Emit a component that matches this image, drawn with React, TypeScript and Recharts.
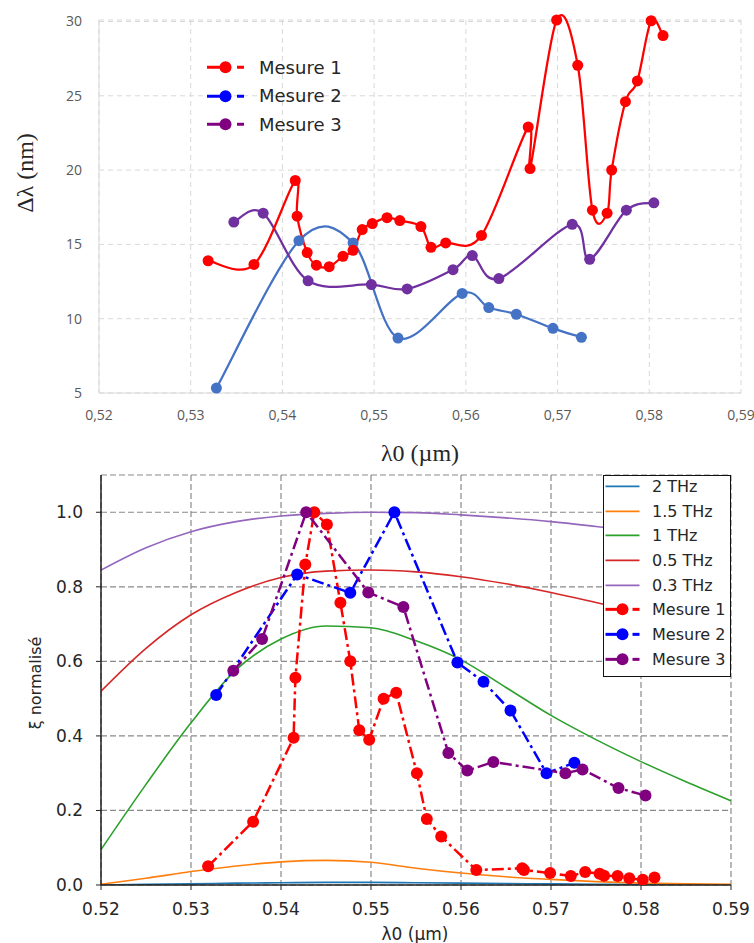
import { LineChart, Line, XAxis, YAxis, CartesianGrid, Legend } from 'recharts'

const xTicks = [0.52, 0.53, 0.54, 0.55, 0.56, 0.57, 0.58, 0.59]
const dlTicks = [5, 10, 15, 20, 25, 30]
const xiTicks = [0, 0.2, 0.4, 0.6, 0.8, 1.0]

// Mesure 1
const m1Lambda = [0.5319, 0.5369, 0.5414, 0.5416, 0.5427, 0.5437, 0.5451, 0.5466, 0.5477, 0.5487, 0.5498, 0.5514, 0.5528, 0.5551, 0.5562, 0.5578, 0.5617, 0.5668, 0.567, 0.5699, 0.5722, 0.5738, 0.5754, 0.5759, 0.5774, 0.5787, 0.5802, 0.5815]
const m1Width = [13.9, 13.65, 19.3, 16.9, 14.45, 13.6, 13.5, 14.2, 14.6, 16.0, 16.4, 16.8, 16.6, 16.2, 14.8, 15.1, 15.6, 22.9, 20.1, 30.1, 27.05, 17.3, 17.1, 20.0, 24.6, 26.0, 30.05, 29.05]
const m1Xi = [0.05, 0.17, 0.395, 0.556, 0.86, 1.0, 0.967, 0.757, 0.6, 0.415, 0.39, 0.5, 0.516, 0.3, 0.177, 0.13, 0.04, 0.045, 0.04, 0.032, 0.024, 0.035, 0.03, 0.025, 0.024, 0.018, 0.014, 0.02]

// Mesure 2
const m2Lambda = [0.5328, 0.5418, 0.5477, 0.5526, 0.5596, 0.5625, 0.5655, 0.5695, 0.5726]
const m2Width = [5.33, 15.25, 15.1, 8.7, 11.7, 10.75, 10.3, 9.35, 8.75]
const m2Xi = [0.51, 0.833, 0.784, 1.0, 0.597, 0.545, 0.468, 0.3, 0.328]

// Mesure 3
const m3Lambda = [0.5347, 0.5379, 0.5428, 0.5497, 0.5536, 0.5586, 0.5607, 0.5636, 0.5716, 0.5735, 0.5775, 0.5805]
const m3Width = [16.5, 17.1, 12.55, 12.3, 12.0, 13.3, 14.25, 12.7, 16.35, 14.0, 17.3, 17.8]
const m3Xi = [0.575, 0.66, 1.0, 0.785, 0.746, 0.354, 0.307, 0.33, 0.3, 0.31, 0.26, 0.24]

// courbes théoriques
const thzLambda = [0.52, 0.525, 0.53, 0.535, 0.54, 0.545, 0.55, 0.555, 0.56, 0.565, 0.57, 0.575, 0.58, 0.585, 0.59]
const thz2 = [0.0, 0.002, 0.003, 0.005, 0.006, 0.007, 0.007, 0.006, 0.005, 0.004, 0.003, 0.002, 0.001, 0.001, 0.0]
const thz15 = [0.002, 0.018, 0.036, 0.051, 0.062, 0.066, 0.061, 0.045, 0.032, 0.022, 0.015, 0.009, 0.005, 0.003, 0.002]
const thz1 = [0.095, 0.27, 0.435, 0.577, 0.66, 0.695, 0.69, 0.655, 0.604, 0.53, 0.455, 0.39, 0.331, 0.277, 0.226]
const thz05 = [0.52, 0.635, 0.725, 0.785, 0.825, 0.842, 0.845, 0.84, 0.827, 0.808, 0.785, 0.758, 0.73, 0.7, 0.67]
const thz03 = [0.845, 0.905, 0.948, 0.975, 0.99, 0.997, 1.0, 0.999, 0.993, 0.985, 0.975, 0.962, 0.948, 0.93, 0.91]

const rows = (xs: number[], ys: number[]) => xs.map((x, i) => ({ x, y: ys[i] }))

// lissage façon Excel (Catmull-Rom)
const excelSmooth = (ctx: any) => {
  let pts: number[][] = []
  return {
    areaStart() {},
    areaEnd() {},
    lineStart() {
      pts = []
    },
    point(x: number, y: number) {
      pts.push([+x, +y])
    },
    lineEnd() {
      pts.forEach((p, i) => {
        if (i === 0) {
          ctx.moveTo(p[0], p[1])
          return
        }
        const p0 = pts[i - 2] ?? pts[i - 1]
        const p1 = pts[i - 1]
        const p3 = pts[i + 1] ?? p
        ctx.bezierCurveTo(
          p1[0] + (p[0] - p0[0]) / 6,
          p1[1] + (p[1] - p0[1]) / 6,
          p[0] - (p3[0] - p1[0]) / 6,
          p[1] - (p3[1] - p1[1]) / 6,
          p[0],
          p[1],
        )
      })
    },
  }
}

type Item = { name: string; color: string; marker?: boolean }

const topItems: Item[] = [
  { name: 'Mesure 1', color: '#ff0000', marker: true },
  { name: 'Mesure 2', color: '#0000ff', marker: true },
  { name: 'Mesure 3', color: '#800080', marker: true },
]

const bottomItems: Item[] = [
  { name: '2 THz', color: '#1f77b4' },
  { name: '1.5 THz', color: '#ff7f0e' },
  { name: '1 THz', color: '#2ca02c' },
  { name: '0.5 THz', color: '#d62728' },
  { name: '0.3 THz', color: '#9467bd' },
  { name: 'Mesure 1', color: '#ff0000', marker: true },
  { name: 'Mesure 2', color: '#0000ff', marker: true },
  { name: 'Mesure 3', color: '#800080', marker: true },
]

const Swatch = ({ it, w, h, x0, x1 }: { it: Item; w: number; h: number; x0: number; x1: number }) => {
  const cy = h / 2
  const mid = (x0 + x1) / 2
  return (
    <svg width={w} height={h} style={{ display: 'block', flex: 'none' }}>
      {it.marker ? (
        <>
          <line x1={x0} x2={mid} y1={cy} y2={cy} stroke={it.color} strokeWidth={3} />
          <line x1={x1 - 7} x2={x1} y1={cy} y2={cy} stroke={it.color} strokeWidth={3} />
          <circle cx={mid} cy={cy} r={6} fill={it.color} />
        </>
      ) : (
        <line x1={x0} x2={x1} y1={cy} y2={cy} stroke={it.color} strokeWidth={1.6} />
      )}
    </svg>
  )
}

const TopLegend = () => (
  <div style={{ fontFamily: '"DejaVu Sans", sans-serif', fontSize: 18, color: '#262626' }}>
    {topItems.map((it) => (
      <div key={it.name} style={{ display: 'flex', alignItems: 'center', height: 28.5 }}>
        <Swatch it={it} w={54} h={28.5} x0={2} x1={39} />
        <span style={{ whiteSpace: 'nowrap' }}>{it.name}</span>
      </div>
    ))}
  </div>
)

const BottomLegend = () => (
  <div
    style={{
      boxSizing: 'border-box',
      width: 128,
      height: 202,
      border: '1.5px solid #111',
      background: '#fff',
      fontFamily: '"DejaVu Sans", sans-serif',
      fontSize: 16,
      color: '#262626',
      paddingTop: 0,
    }}
  >
    <div style={{ marginTop: -2 }}>
      {bottomItems.map((it) => (
        <div key={it.name} style={{ display: 'flex', alignItems: 'center', height: 24.7 }}>
          <Swatch it={it} w={48} h={24.7} x0={1.5} x1={35.5} />
          <span style={{ whiteSpace: 'nowrap' }}>{it.name}</span>
        </div>
      ))}
    </div>
  </div>
)

const title = (text: string, cx: number, cy: number, font: string, size: number, rotate = false) => (
  <div
    style={{
      position: 'absolute',
      left: cx,
      top: cy,
      transform: `translate(-50%, -50%)${rotate ? ' rotate(-90deg)' : ''}`,
      fontFamily: font,
      fontSize: size,
      color: '#262626',
      whiteSpace: 'nowrap',
      lineHeight: 1,
    }}
  >
    {text}
  </div>
)

export default function App() {
  const serif = '"Liberation Serif", "Times New Roman", serif'
  const sans = '"DejaVu Sans", sans-serif'
  return (
    <div style={{ position: 'absolute', left: 0, top: 0, width: 754, height: 943, background: '#fff', overflow: 'hidden' }}>
      {/* Δλ en fonction de λ0 */}
      <div style={{ position: 'absolute', left: 0, top: 0 }}>
        <LineChart width={754} height={460} margin={{ top: 20, right: 13, bottom: 0, left: 0 }}>
          <CartesianGrid stroke="#d9d9d9" strokeDasharray="5 4" />
          <XAxis
            dataKey="x"
            type="number"
            domain={[0.52, 0.59]}
            ticks={xTicks}
            interval={0}
            height={67}
            tickSize={0}
            tickMargin={17}
            axisLine={{ stroke: '#d9d9d9' }}
            tickLine={false}
            tick={{ fontSize: 14, fill: '#595959', fontFamily: '"Open Sans", sans-serif' }}
            tickFormatter={(v: number) => v.toFixed(2).replace('.', ',')}
            allowDataOverflow
          />
          <YAxis
            type="number"
            domain={[5, 30]}
            ticks={dlTicks}
            interval={0}
            width={99}
            tickSize={0}
            tickMargin={17}
            axisLine={{ stroke: '#d9d9d9' }}
            tickLine={false}
            tick={{ fontSize: 14, fill: '#595959', fontFamily: '"Open Sans", sans-serif' }}
          />
          <Line data={rows(m2Lambda, m2Width)} dataKey="y" name="Mesure 2" type={excelSmooth as any} stroke="#4472c4" strokeWidth={2.25} dot={{ r: 5.5, fill: '#4472c4', stroke: 'none' }} activeDot={false} isAnimationActive={false} />
          <Line data={rows(m3Lambda, m3Width)} dataKey="y" name="Mesure 3" type={excelSmooth as any} stroke="#7030a0" strokeWidth={2.25} dot={{ r: 5.5, fill: '#7030a0', stroke: 'none' }} activeDot={false} isAnimationActive={false} />
          <Line data={rows(m1Lambda, m1Width)} dataKey="y" name="Mesure 1" type={excelSmooth as any} stroke="#ff0000" strokeWidth={2.25} dot={{ r: 5.5, fill: '#ff0000', stroke: 'none' }} activeDot={false} isAnimationActive={false} />
          <Legend
            layout="vertical"
            align="center"
            verticalAlign="middle"
            content={() => <TopLegend />}
            wrapperStyle={{ left: 205, top: 53, width: 'auto' }}
          />
        </LineChart>
      </div>
      {title('Δλ (nm)', 25, 173, serif, 24, true)}
      {title('λ0 (µm)', 420, 453, serif, 24)}

      {/* ξ normalisé */}
      <div style={{ position: 'absolute', left: 0, top: 465 }}>
        <LineChart width={754} height={478} margin={{ top: 10, right: 23, bottom: 0, left: 0 }}>
          <CartesianGrid stroke="#8a8a8a" strokeDasharray="6 3" strokeWidth={1.2} />
          <XAxis
            dataKey="x"
            type="number"
            domain={[0.52, 0.59]}
            ticks={xTicks}
            interval={0}
            height={58}
            tickSize={5}
            tickMargin={13}
            axisLine={{ stroke: '#222', strokeWidth: 1.5 }}
            tickLine={{ stroke: '#222' }}
            tick={{ fontSize: 17, fill: '#262626', fontFamily: sans }}
            tickFormatter={(v: number) => v.toFixed(2)}
            allowDataOverflow
          />
          <XAxis xAxisId="top" orientation="top" type="number" domain={[0.52, 0.59]} height={0} tick={false} tickLine={false} axisLine={{ stroke: '#222', strokeWidth: 1.5 }} />
          <YAxis
            type="number"
            domain={[0, 1.1]}
            ticks={xiTicks}
            interval={0}
            width={101}
            tickSize={5}
            tickMargin={13}
            axisLine={{ stroke: '#222', strokeWidth: 1.5 }}
            tickLine={{ stroke: '#222' }}
            tick={{ fontSize: 17, fill: '#262626', fontFamily: sans }}
            tickFormatter={(v: number) => v.toFixed(1)}
            allowDataOverflow
          />
          <YAxis yAxisId="right" orientation="right" type="number" domain={[0, 1.1]} width={0} tick={false} tickLine={false} axisLine={{ stroke: '#222', strokeWidth: 1.5 }} />
          <Line data={rows(thzLambda, thz2)} dataKey="y" name="2 THz" type="monotone" stroke="#1f77b4" strokeWidth={1.6} dot={false} activeDot={false} isAnimationActive={false} />
          <Line data={rows(thzLambda, thz15)} dataKey="y" name="1.5 THz" type="monotone" stroke="#ff7f0e" strokeWidth={1.6} dot={false} activeDot={false} isAnimationActive={false} />
          <Line data={rows(thzLambda, thz1)} dataKey="y" name="1 THz" type="monotone" stroke="#2ca02c" strokeWidth={1.6} dot={false} activeDot={false} isAnimationActive={false} />
          <Line data={rows(thzLambda, thz05)} dataKey="y" name="0.5 THz" type="monotone" stroke="#d62728" strokeWidth={1.6} dot={false} activeDot={false} isAnimationActive={false} />
          <Line data={rows(thzLambda, thz03)} dataKey="y" name="0.3 THz" type="monotone" stroke="#9467bd" strokeWidth={1.6} dot={false} activeDot={false} isAnimationActive={false} />
          <Line data={rows(m1Lambda, m1Xi)} dataKey="y" name="Mesure 1" type="linear" stroke="#ff0000" strokeWidth={2.5} strokeDasharray="12 4 3 4" dot={{ r: 6, fill: '#ff0000', stroke: 'none' }} activeDot={false} isAnimationActive={false} />
          <Line data={rows(m2Lambda, m2Xi)} dataKey="y" name="Mesure 2" type="linear" stroke="#0000ff" strokeWidth={2.5} strokeDasharray="12 4 3 4" dot={{ r: 6, fill: '#0000ff', stroke: 'none' }} activeDot={false} isAnimationActive={false} />
          <Line data={rows(m3Lambda, m3Xi)} dataKey="y" name="Mesure 3" type="linear" stroke="#800080" strokeWidth={2.5} strokeDasharray="12 4 3 4" dot={{ r: 6, fill: '#800080', stroke: 'none' }} activeDot={false} isAnimationActive={false} />
          <Legend
            layout="vertical"
            align="center"
            verticalAlign="middle"
            content={() => <BottomLegend />}
            wrapperStyle={{ left: 603, top: 10, width: 'auto' }}
          />
        </LineChart>
      </div>
      {title('ξ normalisé', 36, 683, sans, 16, true)}
      {title('λ0 (µm)', 415, 934, sans, 17)}
    </div>
  )
}
